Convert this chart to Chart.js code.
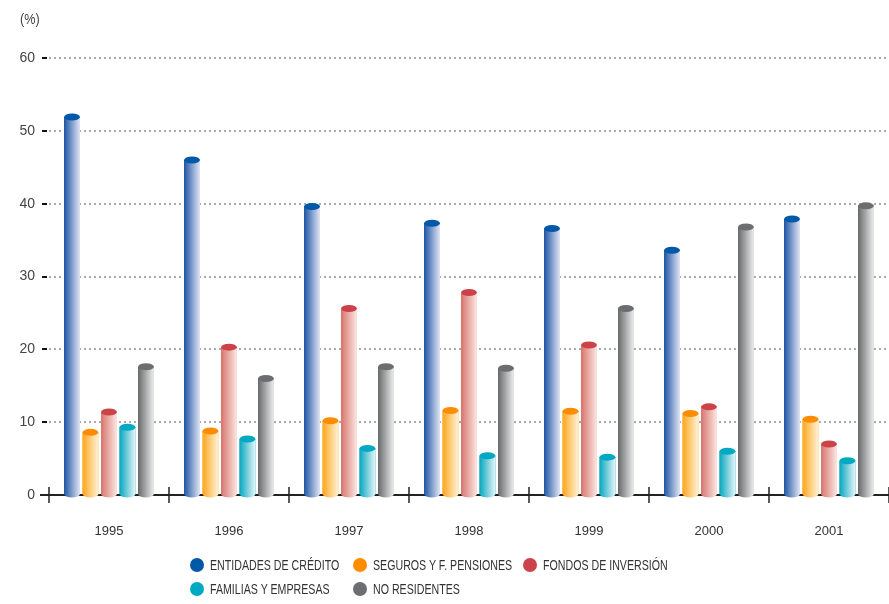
<!DOCTYPE html>
<html>
<head>
<meta charset="utf-8">
<script src="https://cdn.jsdelivr.net/npm/chart.js@4.4.0/dist/chart.umd.min.js"></script>
<style>
  body { margin: 0; background: #fff; }
  #wrap { position: relative; width: 889px; height: 604px; }
  #unit { position: absolute; left: 20px; top: 11px; font: 14px 'Liberation Sans', sans-serif; color: #444; transform: scaleX(0.9); transform-origin: left top; }
  .item { position: absolute; font: 14px 'Liberation Sans', sans-serif; color: #333; white-space: nowrap; line-height: 16px; transform: scaleX(0.76); transform-origin: left top; }
  .dot { position: absolute; width: 14px; height: 14px; border-radius: 50%; }
</style>
</head>
<body>
<div id="wrap">
  <canvas id="myChart" width="889" height="604"></canvas>
  <div id="unit">(%)</div>
  <div id="legend"></div>
</div>
<script>
var years = ['1995', '1996', '1997', '1998', '1999', '2000', '2001'];
var yTicks = [0, 10, 20, 30, 40, 50, 60];

var seriesNames = ['ENTIDADES DE CRÉDITO', 'SEGUROS Y F. PENSIONES', 'FONDOS DE INVERSIÓN', 'FAMILIAS Y EMPRESAS', 'NO RESIDENTES'];
var entidades = [51.9, 46.0, 39.6, 37.3, 36.6, 33.6, 37.9];
var seguros = [8.6, 8.8, 10.2, 11.6, 11.5, 11.2, 10.4];
var fondos = [11.4, 20.3, 25.6, 27.8, 20.6, 12.1, 7.0];
var familias = [9.3, 7.7, 6.4, 5.4, 5.2, 6.0, 4.7];
var noResidentes = [17.6, 16.0, 17.6, 17.4, 25.6, 36.8, 39.7];

// top colour, gradient left, gradient right
var capColors = ['#0058a8', '#ff8c00', '#cc4249', '#00a9c2', '#6c6d70'];
var leftColors = ['#1e55a4', '#ffa61c', '#d7736c', '#06a6bf', '#67686b'];
var rightColors = ['#e2e6f5', '#fff4d8', '#fce8e2', '#e6f6f9', '#efefef'];

window.onload = function () {

    var ctx = document.getElementById('myChart').getContext('2d');

    var cylinders = {
        id: 'cylinders',
        afterDatasetsDraw: function (chart) {
            var c = chart.ctx;
            var ry = 3.5;
            chart.data.datasets.forEach(function (ds, di) {
                var meta = chart.getDatasetMeta(di);
                meta.data.forEach(function (bar) {
                    var w = bar.width;
                    var left = bar.x - w / 2;
                    var g = c.createLinearGradient(left, 0, left + w, 0);
                    g.addColorStop(0, leftColors[di]);
                    g.addColorStop(1, rightColors[di]);
                    c.save();
                    c.fillStyle = g;
                    c.fillRect(left, bar.y, w, bar.base - bar.y);
                    c.beginPath();
                    c.ellipse(bar.x, bar.base, w / 2, ry, 0, 0, Math.PI);
                    c.fill();
                    c.fillStyle = capColors[di];
                    c.beginPath();
                    c.ellipse(bar.x, bar.y, w / 2, ry, 0, 0, Math.PI * 2);
                    c.fill();
                    c.restore();
                });
            });
        },
        beforeDatasetsDraw: function (chart) {
            // x axis line and crosses at category boundaries
            var c = chart.ctx;
            var x = chart.scales.x;
            var y0 = chart.scales.y.getPixelForValue(0);
            var step = x.getPixelForValue(1) - x.getPixelForValue(0);
            c.save();
            c.strokeStyle = '#222';
            c.lineWidth = 2;
            c.beginPath();
            c.moveTo(chart.chartArea.left - 9, y0);
            c.lineTo(chart.chartArea.right, y0);
            c.stroke();
            c.lineWidth = 1.5;
            for (var i = 0; i <= years.length; i++) {
                var bx = x.getPixelForValue(i) - step / 2;
                c.beginPath();
                c.moveTo(bx, y0 - 8);
                c.lineTo(bx, y0 + 8);
                c.stroke();
            }
            c.restore();
        }
    };

    var allData = [entidades, seguros, fondos, familias, noResidentes];

    var myChart = new Chart(ctx, {
        type: 'bar',
        data: {
            labels: years,
            datasets: allData.map(function (d, i) {
                return {
                    label: seriesNames[i],
                    data: d,
                    backgroundColor: leftColors[i],
                    borderWidth: 0,
                    categoryPercentage: 0.77,
                    barPercentage: 0.86
                };
            })
        },
        options: {
            responsive: false,
            animation: false,
            layout: { padding: { top: 58, right: 0, left: 0, bottom: 0 } },
            plugins: {
                legend: { display: false },
                tooltip: { enabled: false }
            },
            scales: {
                x: {
                    offset: true,
                    grid: { display: false },
                    border: { display: false },
                    ticks: {
                        padding: 21,
                        color: '#333',
                        font: { family: 'Liberation Sans, sans-serif', size: 13 }
                    },
                    afterFit: function (scale) { scale.height = 109; }
                },
                y: {
                    min: 0,
                    max: 60,
                    afterBuildTicks: function (scale) {
                        scale.ticks = yTicks.map(function (v) { return { value: v }; });
                    },
                    border: { display: false, dash: [2, 3] },
                    grid: {
                        color: '#aaaaaa',
                        lineWidth: 2,
                        tickColor: '#111',
                        tickWidth: 2,
                        tickLength: 7,
                        tickBorderDash: [5, 10]
                    },
                    ticks: {
                        padding: 7,
                        color: '#444',
                        font: { family: 'Liberation Sans, sans-serif', size: 14 }
                    },
                    afterFit: function (scale) { scale.width = 49; }
                }
            }
        },
        plugins: [cylinders]
    });

    // legend laid out as a grid like the original
    var legend = document.getElementById('legend');
    var pos = [[190, 557], [353, 557], [523, 557], [190, 581], [353, 581]];
    seriesNames.forEach(function (name, i) {
        var dot = document.createElement('div');
        dot.className = 'dot';
        dot.style.left = pos[i][0] + 'px';
        dot.style.top = (pos[i][1] + 1) + 'px';
        dot.style.background = capColors[i];
        legend.appendChild(dot);
        var t = document.createElement('div');
        t.className = 'item';
        t.style.left = (pos[i][0] + 20) + 'px';
        t.style.top = pos[i][1] + 'px';
        t.textContent = name;
        legend.appendChild(t);
    });
}
</script>
</body>
</html>
